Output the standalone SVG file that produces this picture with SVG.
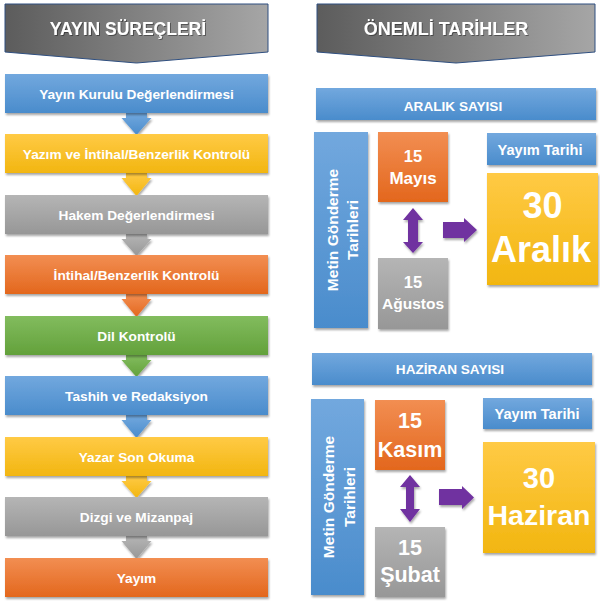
<svg xmlns="http://www.w3.org/2000/svg" width="600" height="604" viewBox="0 0 600 604">
<defs>
<linearGradient id="gBlue" x1="0" y1="0" x2="0" y2="1"><stop offset="0" stop-color="#72a8de"/><stop offset="1" stop-color="#4a8ccc"/></linearGradient>
<linearGradient id="gYel" x1="0" y1="0" x2="0" y2="1"><stop offset="0" stop-color="#ffca45"/><stop offset="1" stop-color="#f2b610"/></linearGradient>
<linearGradient id="gGray" x1="0" y1="0" x2="0" y2="1"><stop offset="0" stop-color="#b5b5b5"/><stop offset="1" stop-color="#979797"/></linearGradient>
<linearGradient id="gOr" x1="0" y1="0" x2="0" y2="1"><stop offset="0" stop-color="#f28e52"/><stop offset="1" stop-color="#e3671d"/></linearGradient>
<linearGradient id="gGreen" x1="0" y1="0" x2="0" y2="1"><stop offset="0" stop-color="#82bc5e"/><stop offset="1" stop-color="#63a13b"/></linearGradient>
<linearGradient id="gHead" x1="0" y1="0" x2="1" y2="0"><stop offset="0" stop-color="#5c5c5c"/><stop offset="1" stop-color="#a6a6a6"/></linearGradient>
<filter id="sh" x="-10%" y="-10%" width="125%" height="130%"><feDropShadow dx="1" dy="2" stdDeviation="1.3" flood-color="#000" flood-opacity="0.35"/></filter>
<filter id="tsh" x="-10%" y="-20%" width="130%" height="150%"><feDropShadow dx="1" dy="1" stdDeviation="0.6" flood-color="#000" flood-opacity="0.4"/></filter>
</defs>
<style>
text{font-family:"Liberation Sans",Arial,sans-serif;font-weight:bold;fill:#fff;text-anchor:middle}
.bx{filter:url(#sh)}
.t{font-size:13.7px}
.hd{fill:url(#gHead);stroke:#2f4f80;stroke-width:1}
.pur{fill:#7030a0}
</style>
<!-- Headers -->
<g id="header-left"><polygon class="hd" points="5,4 268,4 268,52 136.5,63 5,52"/><text x="128" y="35" style="font-size:17.5px" filter="url(#tsh)">YAYIN SÜREÇLERİ</text></g>
<g id="header-right"><polygon class="hd" points="317,4 595,4 595,52 456,63 317,52"/><text x="446" y="35" style="font-size:18px" filter="url(#tsh)">ÖNEMLİ TARİHLER</text></g>
<!-- Left process connectors -->
<g id="connectors">
<polygon class="bx" fill="url(#gBlue)" points="126,113 147,113 147,118 151.5,118 136.5,135 121.5,118 126,118"/>
<polygon class="bx" fill="url(#gYel)" points="126,173 147,173 147,178 151.5,178 136.5,196 121.5,178 126,178"/>
<polygon class="bx" fill="url(#gGray)" points="126,234 147,234 147,239 151.5,239 136.5,256 121.5,239 126,239"/>
<polygon class="bx" fill="url(#gOr)" points="126,294 147,294 147,299 151.5,299 136.5,317 121.5,299 126,299"/>
<polygon class="bx" fill="url(#gGreen)" points="126,355 147,355 147,360 151.5,360 136.5,377 121.5,360 126,360"/>
<polygon class="bx" fill="url(#gBlue)" points="126,415 147,415 147,420 151.5,420 136.5,438 121.5,420 126,420"/>
<polygon class="bx" fill="url(#gYel)" points="126,476 147,476 147,481 151.5,481 136.5,498 121.5,481 126,481"/>
<polygon class="bx" fill="url(#gGray)" points="126,536 147,536 147,541 151.5,541 136.5,559 121.5,541 126,541"/>
<polygon class="pur bx" points="413,208 423,220 418,220 418,242 423,242 413,253 403,242 408,242 408,220 403,220"/>
<polygon class="pur bx" points="443,222 464,222 464,218 477,230 464,242 464,238 443,238"/>
<polygon class="pur bx" points="410,475 420,487 414,487 414,509 420,509 410,522 400,509 406,509 406,487 400,487"/>
<polygon class="pur bx" points="439,489 462,489 462,486 474,497.5 462,509 462,505 439,505"/>
</g>
<!-- Left process boxes -->
<g id="p1"><rect class="bx" x="5" y="74" width="263" height="39" fill="url(#gBlue)"/><text class="t" x="136.5" y="98.5">Yayın Kurulu Değerlendirmesi</text></g>
<g id="p2"><rect class="bx" x="5" y="134" width="263" height="39" fill="url(#gYel)"/><text class="t" x="136.5" y="158.5">Yazım ve İntihal/Benzerlik Kontrolü</text></g>
<g id="p3"><rect class="bx" x="5" y="195" width="263" height="39" fill="url(#gGray)"/><text class="t" x="136.5" y="219.5">Hakem Değerlendirmesi</text></g>
<g id="p4"><rect class="bx" x="5" y="255" width="263" height="39" fill="url(#gOr)"/><text class="t" x="136.5" y="279.5">İntihal/Benzerlik Kontrolü</text></g>
<g id="p5"><rect class="bx" x="5" y="316" width="263" height="39" fill="url(#gGreen)"/><text class="t" x="136.5" y="340.5">Dil Kontrolü</text></g>
<g id="p6"><rect class="bx" x="5" y="376" width="263" height="39" fill="url(#gBlue)"/><text class="t" x="136.5" y="400.5">Tashih ve Redaksiyon</text></g>
<g id="p7"><rect class="bx" x="5" y="437" width="263" height="39" fill="url(#gYel)"/><text class="t" x="136.5" y="461.5">Yazar Son Okuma</text></g>
<g id="p8"><rect class="bx" x="5" y="497" width="263" height="39" fill="url(#gGray)"/><text class="t" x="136.5" y="521.5">Dizgi ve Mizanpaj</text></g>
<g id="p9"><rect class="bx" x="5" y="558" width="263" height="39" fill="url(#gOr)"/><text class="t" x="136.5" y="582.5">Yayım</text></g>
<!-- Aralık section -->
<g id="aralik-bar"><rect class="bx" x="316" y="88" width="280" height="32" fill="url(#gBlue)"/><text x="453" y="111" style="font-size:13.6px">ARALIK SAYISI</text></g>
<g id="metin1"><rect class="bx" x="314" y="132" width="54" height="196" fill="url(#gBlue)"/><text transform="translate(338,230) rotate(-90)" style="font-size:15.5px">Metin Gönderme</text><text transform="translate(358,230) rotate(-90)" style="font-size:15.5px">Tarihleri</text></g>
<g id="mayis"><rect class="bx" x="378" y="132" width="70" height="70" fill="url(#gOr)"/><text x="413" y="162" style="font-size:16.5px">15</text><text x="413" y="184" style="font-size:17px">Mayıs</text></g>
<g id="agustos"><rect class="bx" x="378" y="258" width="70" height="71" fill="url(#gGray)"/><text x="413" y="288" style="font-size:16.5px">15</text><text x="413" y="309" style="font-size:15.5px">Ağustos</text></g>
<g id="yayim1"><rect class="bx" x="487" y="133" width="109" height="32" fill="url(#gBlue)"/><text x="540" y="155" style="font-size:14.6px">Yayım Tarihi</text></g>
<g id="aralik30"><rect class="bx" x="487" y="173" width="111" height="112" fill="url(#gYel)"/><text x="542.5" y="218" style="font-size:36px">30</text><text x="541" y="262" style="font-size:36px">Aralık</text></g>
<!-- Haziran section -->
<g id="haziran-bar"><rect class="bx" x="312" y="353" width="280" height="32" fill="url(#gBlue)"/><text x="450" y="374" style="font-size:13.6px">HAZİRAN SAYISI</text></g>
<g id="metin2"><rect class="bx" x="311" y="399" width="53" height="196" fill="url(#gBlue)"/><text transform="translate(334,497) rotate(-90)" style="font-size:15.5px">Metin Gönderme</text><text transform="translate(355,497) rotate(-90)" style="font-size:15.5px">Tarihleri</text></g>
<g id="kasim"><rect class="bx" x="375" y="400" width="70" height="70" fill="url(#gOr)"/><text x="410" y="428" style="font-size:21.5px">15</text><text x="410" y="457" style="font-size:21.5px">Kasım</text></g>
<g id="subat"><rect class="bx" x="375" y="527" width="70" height="70" fill="url(#gGray)"/><text x="410" y="555" style="font-size:21.5px">15</text><text x="410" y="582" style="font-size:21.5px">Şubat</text></g>
<g id="yayim2"><rect class="bx" x="483" y="398" width="109" height="31" fill="url(#gBlue)"/><text x="537" y="419" style="font-size:14.6px">Yayım Tarihi</text></g>
<g id="haziran30"><rect class="bx" x="483" y="442" width="112" height="111" fill="url(#gYel)"/><text x="539" y="488" style="font-size:29px">30</text><text x="539" y="525" style="font-size:28.5px">Haziran</text></g>
</svg>
